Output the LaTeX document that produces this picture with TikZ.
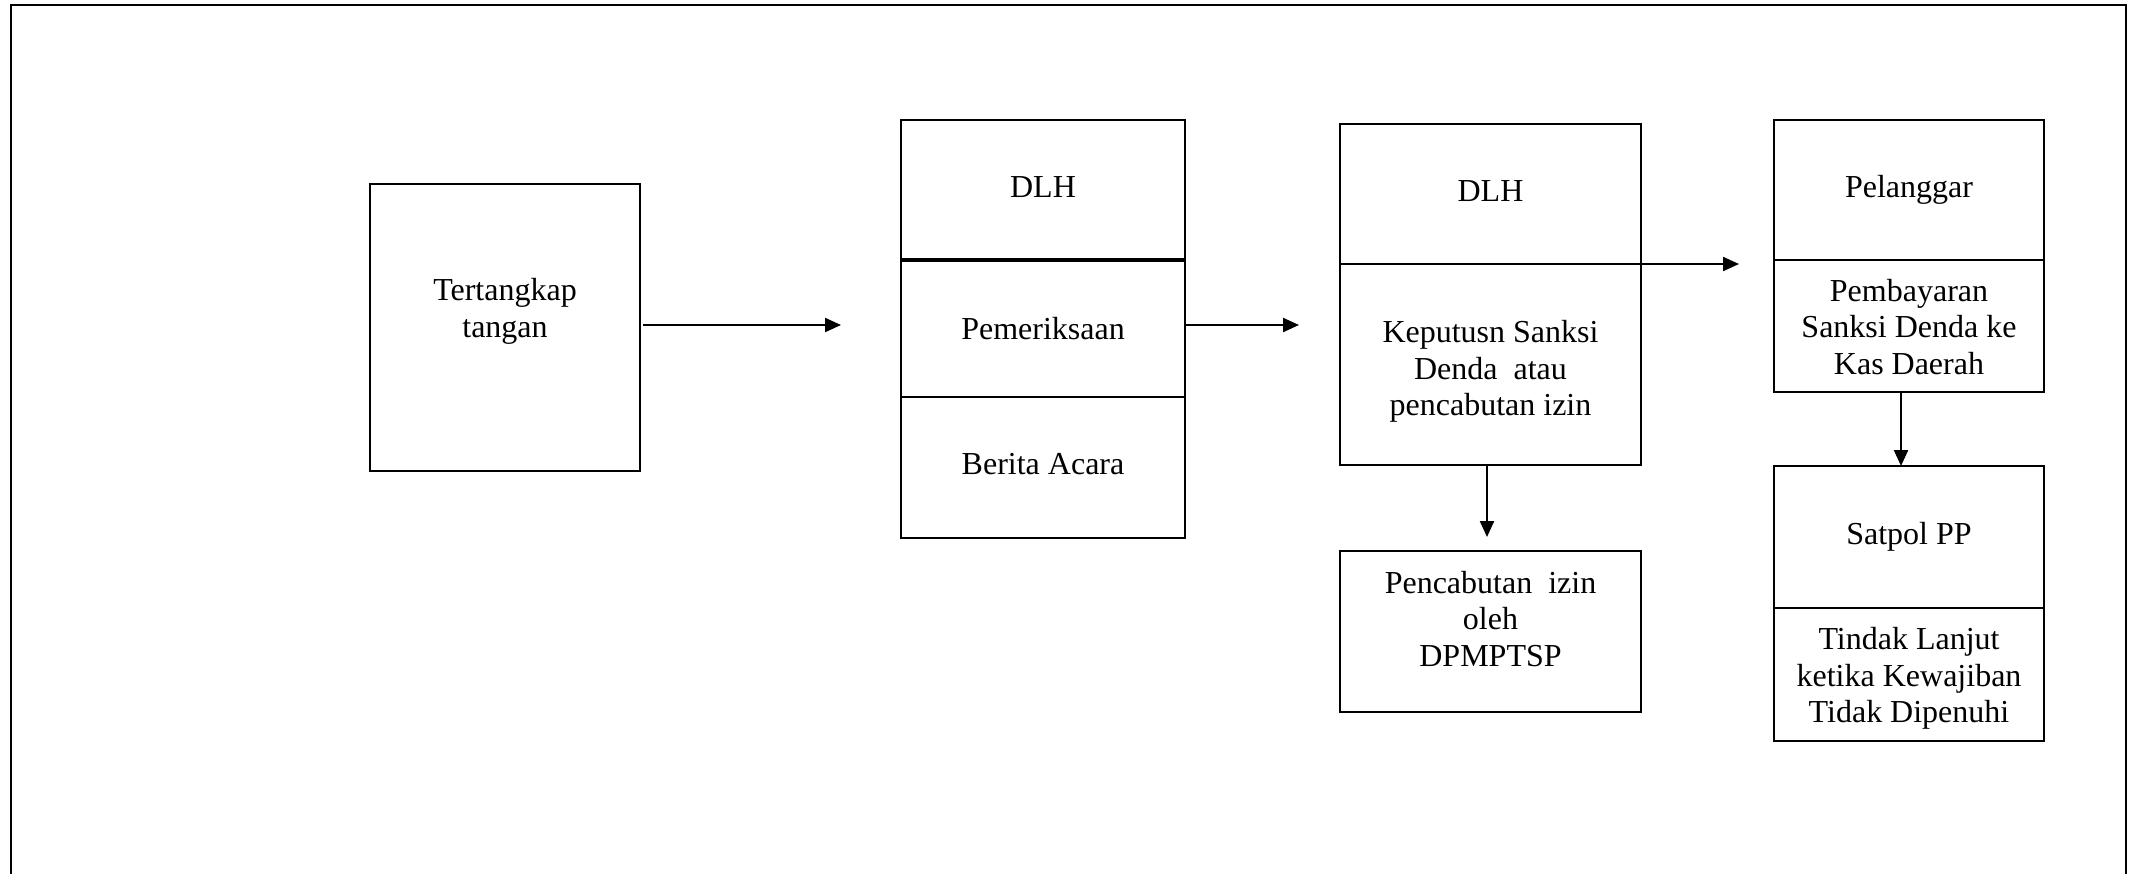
\documentclass[tikz,border=0pt]{standalone}
\usepackage{fontspec}
\setmainfont{Liberation Serif}
\usetikzlibrary{arrows.meta}
\begin{document}
\begin{tikzpicture}[x=1pt,y=-1pt,
  box/.style={draw, line width=2pt, inner sep=0pt, outer sep=0pt, rectangle},
  lbl/.style={inner sep=0pt, align=center, font=\fontsize{32}{36.7}\selectfont},
  arr/.style={line width=2.2pt, -{Triangle[length=16pt,width=14pt]}}]
\useasboundingbox (0,0) rectangle (2132,873);
\clip (0,0) rectangle (2132,873);
% outer frame, open at the bottom edge
\draw[line width=2.5pt] (11,900) -- (11,5) -- (2126,5) -- (2126,900);

% first step
\node[box, minimum width=270pt, minimum height=287pt] (b1) at (505,327.5) {};
\node[lbl] (t1) at (505,311) {Tertangkap\\tangan};

% DLH: examination
\node[box, minimum width=284pt, minimum height=140pt] (b2a) at (1043,190) {};
\node[lbl] at ([yshift=3pt]b2a.center) {DLH};
\node[box, minimum width=284pt, minimum height=137pt] (b2b) at (1043,328.5) {};
\node[lbl] at (b2b.center) {Pemeriksaan};
\node[box, minimum width=284pt, minimum height=141pt] (b2c) at (1043,467.5) {};
\node[lbl] at ([yshift=3pt]b2c.center) {Berita Acara};
\draw[line width=3.5pt] (b2a.south west) -- (b2a.south east);

% DLH: decision
\node[box, minimum width=301pt, minimum height=140pt] (b3a) at (1490.5,194) {};
\node[lbl] at ([yshift=3pt]b3a.center) {DLH};
\node[box, minimum width=301pt, minimum height=201pt] (b3b) at (1490.5,364.5) {};
\node[lbl] at ([yshift=-7pt]b3b.center) {Keputusn Sanksi\\Denda~ atau\\pencabutan izin};

% licence revocation
\node[box, minimum width=301pt, minimum height=161pt] (b4) at (1490.5,631.5) {};
\node[lbl] (t4) at (1490.5,619) {Pencabutan~ izin\\oleh\\DPMPTSP};

% offender pays
\node[box, minimum width=270pt, minimum height=140pt] (b5a) at (1909,190) {};
\node[lbl] at (b5a.center) {Pelanggar};
\node[box, minimum width=270pt, minimum height=132pt] (b5b) at (1909,326) {};
\node[lbl] at ([yshift=-1pt]b5b.center) {Pembayaran\\Sanksi Denda ke\\Kas Daerah};

% Satpol PP
\node[box, minimum width=270pt, minimum height=142pt] (b6a) at (1909,537) {};
\node[lbl] at (b6a.center) {Satpol PP};
\node[box, minimum width=270pt, minimum height=133pt] (b6b) at (1909,674.5) {};
\node[lbl] at ([yshift=-4pt]b6b.center) {Tindak Lanjut\\ketika Kewajiban\\Tidak Dipenuhi};

% connectors
\coordinate (e1) at (841,325);
\coordinate (e2) at (1299,325);
\coordinate (e3) at (1739,264);
\coordinate (s4) at (1487,465);
\coordinate (e4) at (1487,537);
\coordinate (s6) at (1901,392);
\draw[arr] (b1.east |- e1) ++(3,0) -- (e1);
\draw[arr] (b2b.east |- e2) -- (e2);
\draw[arr] (b3b.north west) -- (b3b.north west -| e3);
\draw[arr] (b3b.south -| s4) -- (e4);
\draw[arr] (b5b.south -| s6) -- (b6a.north -| s6);
\end{tikzpicture}
\end{document}
